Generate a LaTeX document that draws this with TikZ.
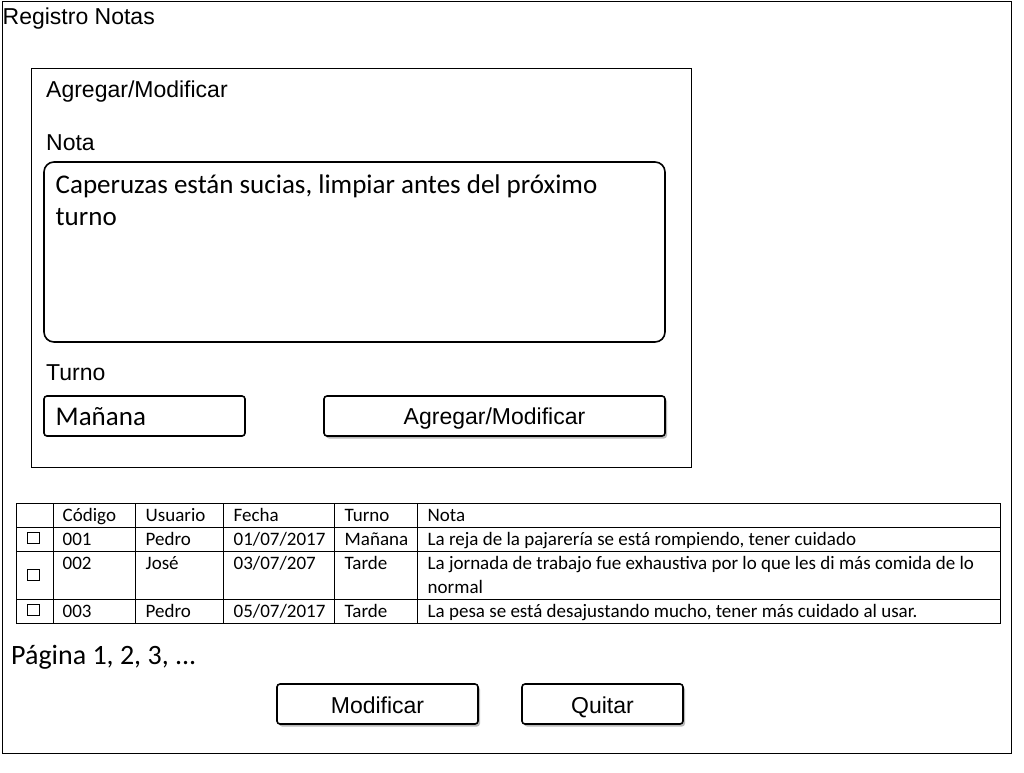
\documentclass[tikz,border=0pt]{standalone}
\usepackage{fontspec}
\setmainfont{Liberation Sans}
\newfontfamily\calfont{Carlito}
\usetikzlibrary{shadows}
\begin{document}
\begin{tikzpicture}[x=1pt,y=-1pt,
  frame/.style={draw=black, line width=1pt},
  btnbox/.style={draw=black, line width=1.6pt, rounded corners=3pt, fill=white,
    drop shadow={shadow xshift=2pt, shadow yshift=-2.5pt, opacity=.45, fill=black!60}},
  fieldbox/.style={draw=black, line width=1.6pt, fill=white},
  lbl/.style={anchor=base west, inner sep=0pt, font=\fontsize{23}{27}\selectfont},
  btntxt/.style={anchor=base, inner sep=0pt, font=\fontsize{23}{27}\selectfont},
  fieldtxt/.style={anchor=base west, inner sep=0pt, font=\calfont\fontsize{27}{32}\selectfont},
  cell/.style={anchor=base west, inner sep=0pt, font=\calfont\fontsize{19}{24}\selectfont},
  chk/.style={draw=black, line width=0.8pt}
]
\useasboundingbox (0,0) rectangle (1024,772);
\fill[white] (0,0) rectangle (1024,772);

% outer window
\draw[frame] (2,1) rectangle (1011,753);
\node[lbl] (title) at (2.5,24) {Registro Notas};

% inner panel
\draw[frame] (31,68) rectangle (691,467);
\node[lbl] (paneltitle) at (46,97) {Agregar/Modificar};
\node[lbl] (notalbl) at (46,150) {Nota};
\draw[fieldbox, rounded corners=10pt] (44,162) rectangle (665,342);
\node[fieldtxt] (notatxt1) at (55.5,193) {Caperuzas están sucias, limpiar antes del próximo};
\node[fieldtxt] (notatxt2) at (55.5,225) {turno};
\node[lbl] (turnolbl) at (46,380) {Turno};
\draw[fieldbox, rounded corners=3pt] (44,396) rectangle (245,436);
\node[fieldtxt] (turnotxt) at (55.5,425) {Mañana};
\draw[btnbox] (324,396) rectangle (665,436);
\node[btntxt] (addbtn) at (494.5,424) {Agregar/Modificar};

% table
\draw[frame] (16,503) rectangle (1000,623);
\foreach \yy in {527,551,599} \draw[frame] (16,\yy) -- (1000,\yy);
\foreach \xx in {53,135,223,334,417} \draw[frame] (\xx,503) -- (\xx,623);

\node[cell] (h1) at (62.5,521.5) {Código};
\node[cell] (h2) at (145.5,521.5) {Usuario};
\node[cell] (h3) at (233.5,521.5) {Fecha};
\node[cell] (h4) at (344.5,521.5) {Turno};
\node[cell] (h5) at (427.5,521.5) {Nota};

\draw[chk] (27,532) rectangle (39,543);
\node[cell] (r1a) at (62.5,545.5) {001};
\node[cell] (r1b) at (145.5,545.5) {Pedro};
\node[cell] (r1c) at (233.5,545.5) {01/07/2017};
\node[cell] (r1d) at (344.5,545.5) {Mañana};
\node[cell] (r1e) at (427.5,545.5) {La reja de la pajarería se está rompiendo, tener cuidado};

\draw[chk] (27,569) rectangle (39,580);
\node[cell] (r2a) at (62.5,569.5) {002};
\node[cell] (r2b) at (145.5,569.5) {José};
\node[cell] (r2c) at (233.5,569.5) {03/07/207};
\node[cell] (r2d) at (344.5,569.5) {Tarde};
\node[cell] (r2e) at (427.5,569.5) {La jornada de trabajo fue exhaustiva por lo que les di más comida de lo};
\node[cell] (r2f) at (427.5,593.5) {normal};

\draw[chk] (27,604) rectangle (39,615);
\node[cell] (r3a) at (62.5,617.5) {003};
\node[cell] (r3b) at (145.5,617.5) {Pedro};
\node[cell] (r3c) at (233.5,617.5) {05/07/2017};
\node[cell] (r3d) at (344.5,617.5) {Tarde};
\node[cell] (r3e) at (427.5,617.5) {La pesa se está desajustando mucho, tener más cuidado al usar.};

% paging
\node[anchor=base west, inner sep=0pt, font=\calfont\fontsize{28}{32}\selectfont] (pag) at (11,664) {Página 1, 2, 3, ...};

% bottom buttons
\draw[btnbox] (277,684) rectangle (478,724);
\node[btntxt] (modbtn) at (377.5,713) {Modificar};
\draw[btnbox] (522,684) rectangle (683,724);
\node[btntxt] (quitbtn) at (602.5,713) {Quitar};
\end{tikzpicture}
\end{document}
